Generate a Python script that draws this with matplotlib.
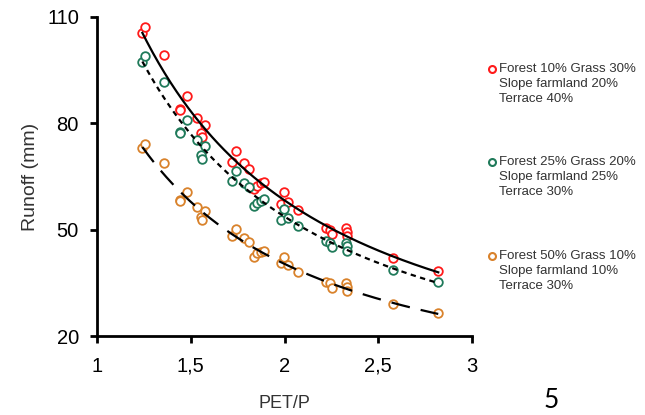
import numpy as np
import matplotlib
matplotlib.use("Agg")
import matplotlib.pyplot as plt
from matplotlib.lines import Line2D

# ---- data ----
pet_p = [1.242, 1.256, 1.359, 1.443, 1.445, 1.482, 1.535, 1.553, 1.562, 1.576,
         1.722, 1.741, 1.784, 1.812, 1.839, 1.855, 1.875, 1.891, 1.980, 1.997,
         2.020, 2.070, 2.221, 2.243, 2.252, 2.326, 2.331, 2.333, 2.577, 2.820]

runoff_a = [105.4, 107.3, 99.2, 84.1, 83.9, 87.7, 81.4, 77.2, 76.1, 79.5,
            69.2, 72.1, 68.7, 67.0, 61.4, 62.3, 63.1, 63.5, 57.2, 60.7,
            57.9, 55.6, 50.4, 49.9, 48.8, 50.4, 49.4, 48.2, 41.9, 38.4]

runoff_b = [97.2, 99.0, 91.7, 77.6, 77.4, 80.9, 75.2, 71.1, 69.9, 73.5,
            63.8, 66.6, 63.1, 62.0, 56.7, 57.6, 58.2, 58.6, 52.7, 55.8,
            53.2, 51.0, 46.7, 46.2, 45.2, 46.3, 45.3, 44.1, 38.6, 35.3]

runoff_c = [73.0, 74.2, 68.7, 58.4, 58.2, 60.7, 56.5, 53.5, 52.7, 55.3,
            48.1, 50.1, 47.6, 46.5, 42.4, 43.3, 43.7, 44.0, 40.5, 42.2,
            40.0, 38.0, 35.3, 34.9, 33.5, 34.9, 33.9, 32.8, 29.0, 26.4]

labels = ["Forest 10% Grass 30%\nSlope farmland 20%\nTerrace 40%",
          "Forest 25% Grass 20%\nSlope farmland 25%\nTerrace 30%",
          "Forest 50% Grass 10%\nSlope farmland 10%\nTerrace 30%"]

x_ticks = [1, 1.5, 2, 2.5, 3]
x_ticklabels = ["1", "1,5", "2", "2,5", "3"]
y_ticks = [20, 50, 80, 110]

colors = ["#ff1a1a", "#1f7a5a", "#d9822b"]
dashes = [None, (2.4, 2.0), (8.5, 5.0)]

plt.rcParams['font.family'] = ['Liberation Sans', 'DejaVu Sans']

W, H = 645, 415
fig = plt.figure(figsize=(6.45, 4.15), dpi=100)
ax = fig.add_axes([97 / W, 1 - 336 / H, (472 - 97) / W, (336 - 17) / H])

x = np.array(pet_p)
xs = np.linspace(x.min(), x.max(), 200)
for y, c, d in zip([runoff_a, runoff_b, runoff_c], colors, dashes):
    y = np.array(y)
    ax.plot(x, y, linestyle='none', marker='o', markersize=6.2,
            markerfacecolor='white', markeredgecolor=c, markeredgewidth=1.3,
            zorder=3)
    b, a = np.polyfit(np.log(x), np.log(y), 1)
    fit = np.exp(a) * xs ** b
    line, = ax.plot(xs, fit, color='black', lw=1.6, zorder=4)
    if d is not None:
        line.set_dashes(d)

ax.set_xlim(1, 3)
ax.set_ylim(20, 110)
ax.set_xticks(x_ticks)
ax.set_xticklabels(x_ticklabels)
ax.set_yticks(y_ticks)
for s in ['top', 'right']:
    ax.spines[s].set_visible(False)
for s in ['left', 'bottom']:
    ax.spines[s].set_linewidth(2)
ax.tick_params(axis='both', direction='out', length=5, width=2,
               labelsize=14.5, colors='black')
ax.tick_params(axis='y', pad=8)
ax.tick_params(axis='x', pad=10)
ax.set_xlabel("PET/P", fontsize=13, labelpad=14, color='#333333')
ax.set_ylabel("Runoff (mm)", fontsize=14, labelpad=6, color='#333333')

# legend drawn manually (marker aligned with first line)
leg_y = [69, 162, 256]
line_step = 15
for lab, c, yy in zip(labels, colors, leg_y):
    fig.add_artist(Line2D([492 / W], [1 - yy / H], transform=fig.transFigure,
                          marker='o', markersize=5, markerfacecolor='white',
                          markeredgecolor=c, markeredgewidth=1.5,
                          linestyle='none'))
    for i, part in enumerate(lab.split("\n")):
        fig.text(499 / W, 1 - (yy + i * line_step) / H, part, fontsize=9.5,
                 color='#333333', va='center', ha='left')

fig.text(551 / W, 1 - 400 / H, "5", fontsize=19, family=['Lato', 'DejaVu Sans'],
         ha='center', va='center')

fig.savefig("out.png", dpi=100)
